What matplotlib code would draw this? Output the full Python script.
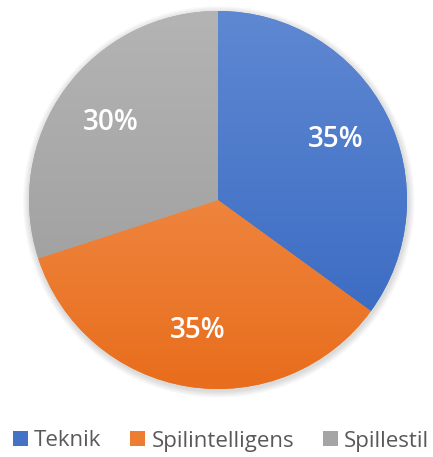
import numpy as np
import matplotlib
matplotlib.use("Agg")
import matplotlib.pyplot as plt
from matplotlib.colors import LinearSegmentedColormap
from matplotlib.patches import Rectangle, Circle

categories = ["Teknik", "Spilintelligens", "Spillestil"]
values = [35, 35, 30]
colors_top = ["#5f88d2", "#f59b5e", "#b4b4b4"]
colors_bottom = ["#3466c0", "#e86d1c", "#999999"]
colors_mid = ["#4472c4", "#ed7d31", "#a5a5a5"]

W, H = 433, 457
fig = plt.figure(figsize=(W / 100, H / 100), dpi=100)
cx, cy, r = 218, 200, 189
ax = fig.add_axes([(cx - r) / W, (H - cy - r) / H, 2 * r / W, 2 * r / H])

wedges, texts, autotexts = ax.pie(
    values, colors=colors_mid, startangle=90, counterclock=False,
    autopct=lambda p: f"{p:.0f}%", pctdistance=0.7, radius=1,
    textprops=dict(color="white", fontsize=20, family="Open Sans", fontweight="semibold"),
    wedgeprops=dict(linewidth=0),
)
ax.set_xlim(-1, 1)
ax.set_ylim(-1, 1)
ax.set_clip_on(False)

# soft shadow around the pie
for k in range(6):
    sh = Circle((0.004, -0.01), 1.0 + 0.006 * (k + 1), color="black", alpha=0.025,
                zorder=0, lw=0, clip_on=False)
    ax.add_patch(sh)

grad = np.linspace(0, 1, 256).reshape(-1, 1)
for w, ct, cb in zip(wedges, colors_top, colors_bottom):
    cmap = LinearSegmentedColormap.from_list("g", [ct, cb])
    im = ax.imshow(grad, cmap=cmap, extent=(-1, 1, -1, 1), origin="upper",
                   aspect="auto", zorder=1.5, interpolation="bilinear")
    im.set_clip_path(w)
for t in autotexts:
    t.set_zorder(3)

handles = [Rectangle((0, 0), 1, 1, facecolor=c) for c in colors_mid]
fig.legend(handles, categories, loc="center", bbox_to_anchor=(221 / W, (H - 441) / H),
           ncol=3, frameon=False, prop=dict(family="Open Sans", size=16),
           labelcolor="#595959", handlelength=0.68, handleheight=0.68,
           handletextpad=0.27, columnspacing=1.3, borderpad=0, borderaxespad=0)

fig.savefig("out.png", dpi=100)
